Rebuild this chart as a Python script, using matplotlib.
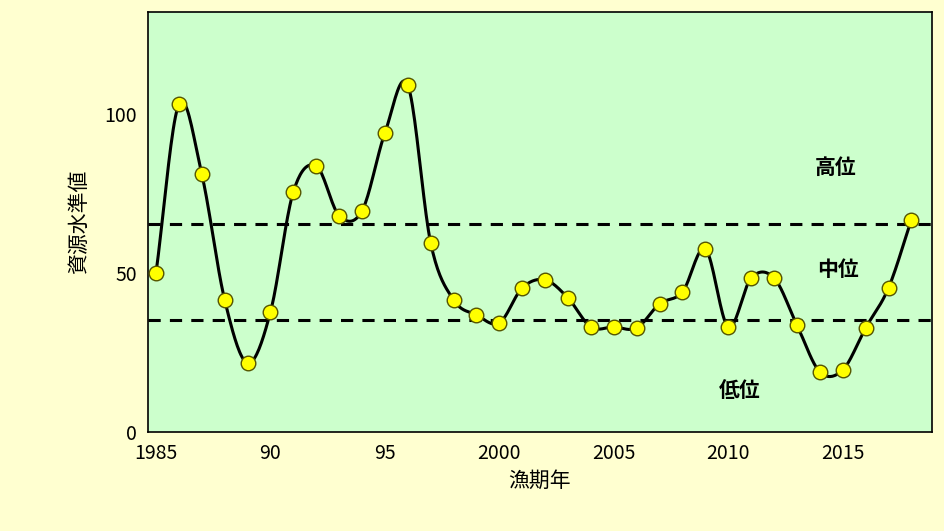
import matplotlib
matplotlib.use("Agg")
import matplotlib.pyplot as plt
import numpy as np

plt.rcParams['font.family'] = ['Noto Sans CJK JP', 'DejaVu Sans']

years = list(range(1985, 2019))
values = [50, 103, 81, 41.5, 21.7, 37.7, 75.5, 83.6, 68, 69.5, 94, 109, 59.4, 41.5, 36.8, 34.3,
          45.3, 47.8, 42.1, 33, 33, 32.7, 40.3, 44, 57.5, 33, 48.4, 48.4, 33.6, 18.9, 19.5, 32.7, 45.3, 66.7]
high_line = 65.4
low_line = 35.2
xticks = [1985, 1990, 1995, 2000, 2005, 2010, 2015]
xticklabels = ['1985', '90', '95', '2000', '2005', '2010', '2015']

def catmull(x, y, n=20):
    x = np.asarray(x, float); y = np.asarray(y, float)
    px = np.concatenate([[2*x[0]-x[1]], x, [2*x[-1]-x[-2]]])
    py = np.concatenate([[2*y[0]-y[1]], y, [2*y[-1]-y[-2]]])
    xs, ys = [], []
    t = np.linspace(0, 1, n, endpoint=False)
    for i in range(1, len(px)-2):
        for arr, out in ((px, xs), (py, ys)):
            p0, p1, p2, p3 = arr[i-1], arr[i], arr[i+1], arr[i+2]
            out.extend(0.5*((2*p1) + (-p0+p2)*t + (2*p0-5*p1+4*p2-p3)*t**2 + (-p0+3*p1-3*p2+p3)*t**3))
    xs.append(x[-1]); ys.append(y[-1])
    return np.array(xs), np.array(ys)

fig = plt.figure(figsize=(9.45, 5.31), dpi=100, facecolor='#FFFFD0')
ax = fig.add_axes([148/945, (531-432)/531, (932-148)/945, (432-12)/531])
ax.set_facecolor('#CCFFCC')
sx, sy = catmull(years, values)
ax.plot(sx, sy, color='black', lw=2.2, zorder=2)
ax.scatter(years, values, s=110, facecolor='#FFFF00', edgecolor='#555500', lw=1, zorder=3)
ax.axhline(high_line, color='black', ls=(0, (4, 3)), lw=2.2, zorder=1)
ax.axhline(low_line, color='black', ls=(0, (4, 3)), lw=2.2, zorder=1)
ax.set_xlim(1984.65, 2018.9)
ax.set_ylim(0, 132)
ax.set_xticks(xticks)
ax.set_xticklabels(xticklabels, fontsize=14)
ax.set_yticks([0, 50, 100])
ax.tick_params(axis='y', labelsize=14, length=0, pad=8)
ax.tick_params(axis='x', length=0, pad=8)
ax.set_ylabel('資源水準値', fontsize=15, labelpad=10)
ax.set_xlabel('漁期年', fontsize=15, labelpad=4)
for s in ax.spines.values():
    s.set_linewidth(1.2)
ax.text(2014.7, 83, '高位', fontsize=15, fontweight='bold', ha='center', va='center')
ax.text(2014.8, 51, '中位', fontsize=15, fontweight='bold', ha='center', va='center')
ax.text(2010.5, 13, '低位', fontsize=15, fontweight='bold', ha='center', va='center')
fig.savefig('out.png', dpi=100, facecolor=fig.get_facecolor())
